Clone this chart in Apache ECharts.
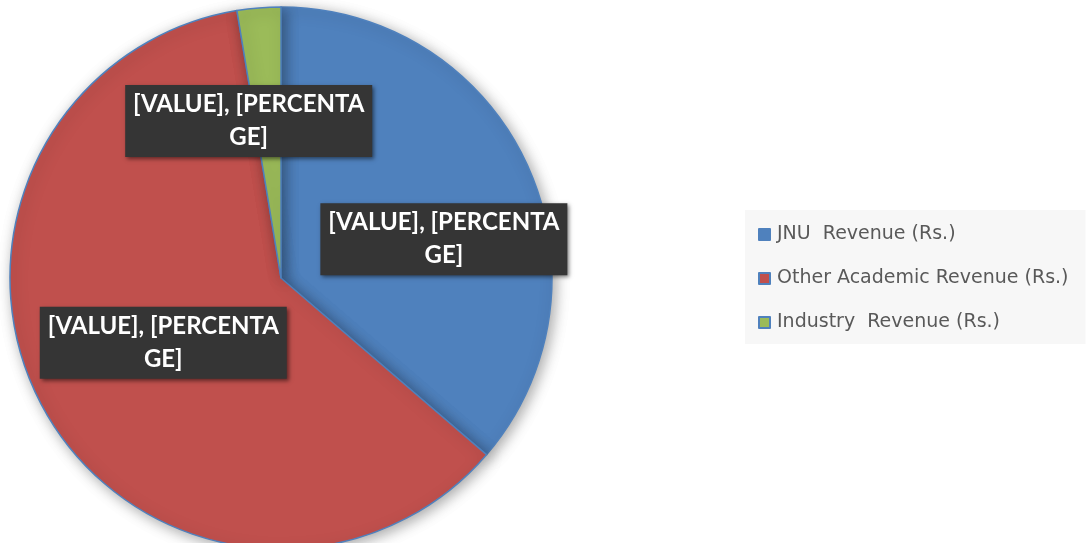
<!DOCTYPE html>
<html>
<head>
<meta charset="utf-8">
<script src="https://cdn.jsdelivr.net/npm/echarts@6/dist/echarts.min.js"></script>
<style>
  html, body { margin: 0; padding: 0; background: #ffffff; }
  #chart { width: 1089px; height: 543px; }
</style>
</head>
<body>
<div id="chart"></div>
<script>
// Revenue shares by source
const categories = ['JNU  Revenue (Rs.)', 'Other Academic Revenue (Rs.)', 'Industry  Revenue (Rs.)'];
const values = [36.3, 61.1, 2.6];
const colors = ['#4F81BD', '#C0504D', '#9BBB59'];
const labelTexts = ['[VALUE], [PERCENTA\nGE]', '[VALUE], [PERCENTA\nGE]', '[VALUE], [PERCENTA\nGE]'];
// nudges of each data label away from its default inside spot
const labelShift = [[37, 19], [3, -3], [-21, -19]];

const chart = echarts.init(document.getElementById('chart'));
chart.setOption({
  animation: false,
  backgroundColor: '#ffffff',
  legend: {
    orient: 'vertical',
    left: 745,
    top: 210,
    padding: [15, 17, 12, 13],
    backgroundColor: '#f7f7f7',
    itemWidth: 11,
    itemHeight: 11,
    itemGap: 25,
    icon: 'rect',
    textStyle: { fontFamily: 'DejaVu Sans', fontSize: 19, lineHeight: 18, color: '#595959', padding: [0, 0, 0, 2] },
    data: categories
  },
  series: [{
    type: 'pie',
    center: [281, 278],
    radius: [0, 271],
    startAngle: 90,
    clockwise: true,
    avoidLabelOverlap: false,
    itemStyle: {
      borderColor: '#4F81BD',
      borderWidth: 1.5,
      shadowBlur: 14,
      shadowOffsetX: 3,
      shadowOffsetY: 3,
      shadowColor: 'rgba(0,0,0,0.35)'
    },
    label: {
      show: true,
      position: 'inside',
      formatter: p => labelTexts[p.dataIndex],
      fontFamily: 'Lato',
      fontWeight: 'bold',
      fontSize: 24,
      lineHeight: 33,
      color: '#ffffff',
      align: 'center',
      width: 237,
      overflow: 'none',
      padding: [3, 5, 3, 5],
      backgroundColor: '#353535',
      shadowBlur: 4,
      shadowOffsetX: 2,
      shadowOffsetY: 2,
      shadowColor: 'rgba(0,0,0,0.5)'
    },
    labelLine: { show: false },
    labelLayout: p => ({ dx: labelShift[p.dataIndex][0], dy: labelShift[p.dataIndex][1] }),
    emphasis: { disabled: true },
    data: categories.map((name, i) => ({ name, value: values[i], itemStyle: { color: colors[i] } }))
  }]
});
</script>
</body>
</html>
